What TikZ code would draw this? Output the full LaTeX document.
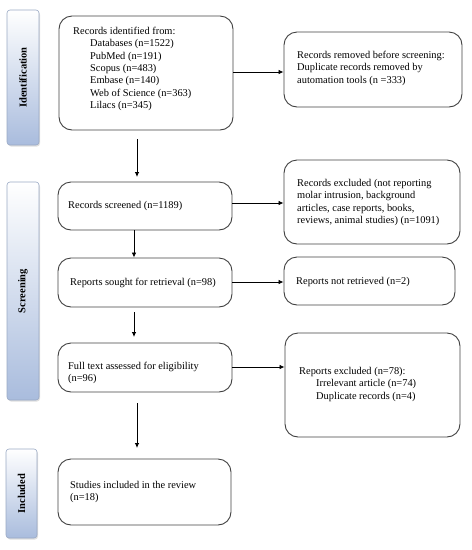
\documentclass[tikz,border=0pt]{standalone}
\usepackage{fontspec}
\setmainfont{Liberation Serif}
\usetikzlibrary{arrows.meta,shadows}
\definecolor{barblue}{HTML}{A9BCDD}
\definecolor{barline}{HTML}{9AA9C4}
\definecolor{boxline}{HTML}{404040}
\tikzset{
  flowbox/.style={draw=boxline, line width=0.9pt, rounded corners=13pt},
  phasebar/.style={draw=barline, line width=0.6pt, rounded corners=3pt, top color=white, bottom color=barblue, drop shadow={shadow xshift=1pt, shadow yshift=-1.5pt, opacity=0.25}},
  phaselabel/.style={rotate=90, font=\fontsize{10.5}{12}\selectfont\bfseries},
  txt/.style={anchor=north west, inner sep=0pt, align=left, font=\fontsize{10.4}{12.3}\selectfont},
  flowarrow/.style={-{Latex[length=5pt,width=4.5pt]}, line width=0.8pt, draw=black}
}
\begin{document}
\begin{tikzpicture}[x=1pt,y=-1pt]
\useasboundingbox (0,0) rectangle (472,550);
% phase bars
\node[phasebar, minimum width=32pt, minimum height=135pt] (pid) at (23,77.5) {};
\node[phaselabel] at (pid.center) {Identification};
\node[phasebar, minimum width=32pt, minimum height=218pt] (psc) at (23,291) {};
\node[phaselabel] at (psc.center) {Screening};
\node[phasebar, minimum width=31pt, minimum height=89pt] (pin) at (21.5,493.5) {};
\node[phaselabel] at (pin.center) {Included};
% boxes
\node[flowbox, minimum width=174pt, minimum height=114pt] (id) at (146,73) {};
\node[txt] at (73,27) {Records identified from:\\
\hspace{17pt}Databases (n=1522)\\
\hspace{17pt}PubMed (n=191)\\
\hspace{17pt}Scopus (n=483)\\
\hspace{17pt}Embase (n=140)\\
\hspace{17pt}Web of Science (n=363)\\
\hspace{17pt}Lilacs (n=345)};
\node[flowbox, minimum width=178pt, minimum height=75pt] (rem) at (373,69.5) {};
\node[txt] at (297,51) {Records removed before screening:\\Duplicate records removed by\\automation tools (n =333)};
\node[flowbox, minimum width=174pt, minimum height=48pt] (scr) at (145,206) {};
\node[txt, anchor=west] at (68,206) {Records screened (n=1189)};
\node[flowbox, minimum width=176pt, minimum height=84pt] (exc) at (372,202) {};
\node[txt] at (297,179) {Records excluded (not reporting\\molar intrusion, background\\articles, case reports, books,\\reviews, animal studies) (n=1091)};
\node[flowbox, minimum width=174pt, minimum height=49pt] (sou) at (145,282.5) {};
\node[txt, anchor=west] at (70,283) {Reports sought for retrieval (n=98)};
\node[flowbox, minimum width=171pt, minimum height=48pt] (nr) at (369.5,281) {};
\node[txt, anchor=west] at (296,282) {Reports not retrieved (n=2)};
\node[flowbox, minimum width=174pt, minimum height=49pt] (ful) at (145,367.5) {};
\node[txt] at (68,362) {Full text assessed for eligibility\\(n=96)};
\node[flowbox, minimum width=175pt, minimum height=104pt] (rex) at (372.5,385) {};
\node[txt] at (299,367) {Reports excluded (n=78):\\
\hspace{17pt}Irrelevant article (n=74)\\
\hspace{17pt}Duplicate records (n=4)};
\node[flowbox, minimum width=173pt, minimum height=66pt] (stu) at (144.5,492) {};
\node[txt] at (70,481) {Studies included in the review\\(n=18)};
% connectors
\coordinate (a1s) at (137,139);
\draw[flowarrow] (a1s) -- (137,177);
\draw[flowarrow] (id.east |- 0,72) -- (rem.west |- 0,72);
\draw[flowarrow] (scr.east |- 0,203) -- (exc.west |- 0,203);
\draw[flowarrow] (134,230) -- (sou.north -| 134,0);
\draw[flowarrow] (sou.east |- 0,282) -- (nr.west |- 0,282);
\coordinate (a3s) at (134,312);
\draw[flowarrow] (a3s) -- (134,337);
\draw[flowarrow] (ful.east |- 0,367) -- (rex.west |- 0,367);
\coordinate (a4s) at (137,403);
\draw[flowarrow] (a4s) -- (137,448);
\end{tikzpicture}
\end{document}
